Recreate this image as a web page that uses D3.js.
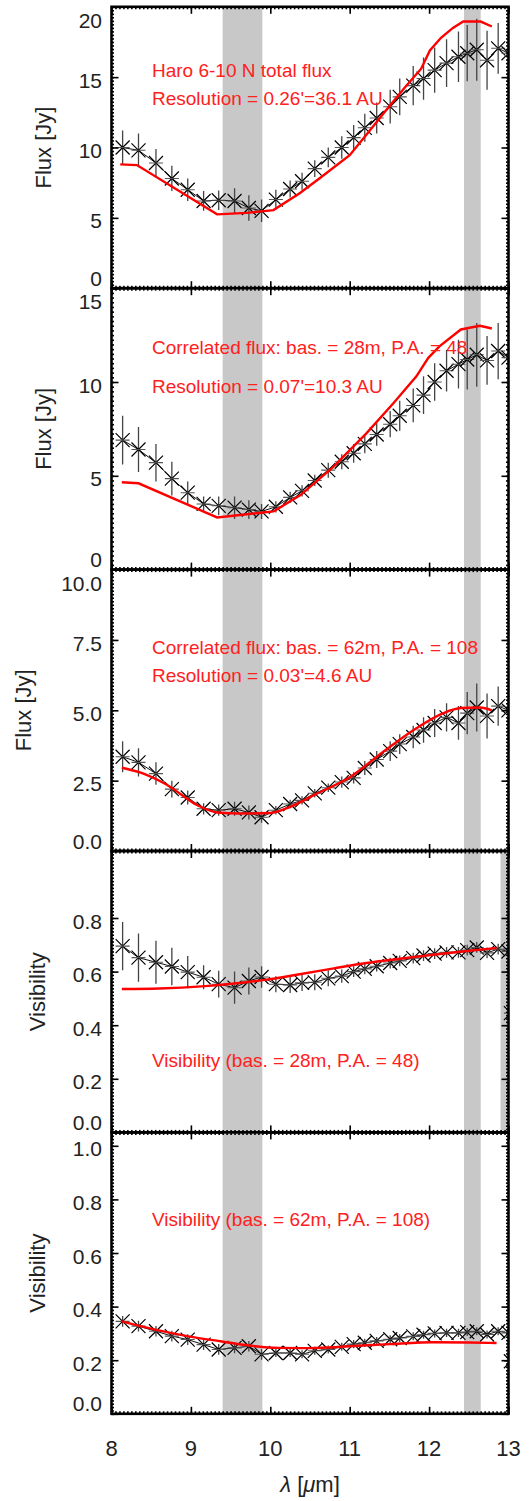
<!DOCTYPE html>
<html>
<head>
<meta charset="utf-8">
<script src="https://cdn.jsdelivr.net/npm/d3@7"></script>
<style>
  body { margin: 0; background: #fff; }
  svg { display: block; }
  text { font-family: "Liberation Sans", Arial, Helvetica, sans-serif; }
</style>
</head>
<body>
<svg id="chart" width="529" height="1501"></svg>
<script>
/* ── wavelength grid of the measured points (µm) ── */
const lambda = [8.14, 8.34, 8.56, 8.76, 8.96, 9.16, 9.35, 9.55, 9.73, 9.89,
  10.07, 10.25, 10.40, 10.56, 10.73, 10.90, 11.05, 11.19, 11.34, 11.51,
  11.63, 11.80, 11.93, 12.07, 12.22, 12.37, 12.48, 12.60, 12.73, 12.87, 13.00];
const lambdaVis = lambda.concat([13.03]);

/* ── total flux (Jy) ── */
const fluxTotal = [10.0, 9.8, 8.9, 7.8, 7.0, 6.2, 6.25, 6.2, 5.7, 5.5,
  6.3, 7.05, 7.6, 8.5, 9.3, 10.0, 10.7, 11.4, 12.1, 12.9,
  13.6, 14.4, 14.9, 15.5, 16.0, 16.45, 16.7, 16.95, 16.2, 17.05, 16.7];
const fluxTotalErr = [1.2, 1.2, 1.0, 0.9, 0.8, 0.7, 0.7, 0.9, 0.9, 0.8,
  0.7, 0.6, 0.6, 0.6, 0.7, 0.8, 0.9, 1.0, 1.1, 1.2,
  1.3, 1.4, 1.5, 1.6, 1.7, 1.8, 2.0, 2.2, 2.1, 1.8, 2.4];

/* ── correlated flux, 28 m baseline (Jy) ── */
const fluxCorr28 = [6.9, 6.4, 5.7, 4.85, 4.1, 3.5, 3.4, 3.3, 3.2, 3.1,
  3.35, 3.85, 4.2, 4.75, 5.3, 5.75, 6.2, 6.7, 7.2, 7.75,
  8.2, 8.75, 9.3, 10.0, 10.6, 10.95, 11.2, 11.45, 11.15, 11.65, 11.3];
const fluxCorr28Err = [1.3, 1.2, 1.0, 0.9, 0.6, 0.4, 0.5, 0.6, 0.5, 0.4,
  0.3, 0.3, 0.3, 0.3, 0.4, 0.4, 0.5, 0.5, 0.6, 0.7,
  0.8, 0.9, 1.0, 1.0, 1.1, 1.3, 1.6, 1.7, 1.3, 1.5, 1.8];

/* ── correlated flux, 62 m baseline (Jy) ── */
const fluxCorr62 = [3.35, 3.15, 2.75, 2.2, 1.9, 1.5, 1.45, 1.5, 1.37, 1.2,
  1.45, 1.67, 1.8, 2.05, 2.25, 2.45, 2.6, 2.95, 3.25, 3.55,
  3.8, 4.05, 4.3, 4.55, 4.75, 4.55, 4.9, 5.1, 4.8, 5.15, 5.0];
const fluxCorr62Err = [0.55, 0.5, 0.4, 0.3, 0.25, 0.2, 0.2, 0.25, 0.25, 0.2,
  0.15, 0.15, 0.15, 0.15, 0.15, 0.2, 0.2, 0.25, 0.3, 0.35,
  0.35, 0.4, 0.45, 0.5, 0.5, 0.6, 0.75, 0.85, 0.8, 0.7, 0.9];

/* ── visibilities ── */
const vis28 = [0.695, 0.652, 0.635, 0.619, 0.598, 0.579, 0.553, 0.54, 0.565, 0.58,
  0.553, 0.55, 0.558, 0.56, 0.575, 0.583, 0.6, 0.61, 0.62, 0.632,
  0.64, 0.65, 0.66, 0.667, 0.672, 0.672, 0.68, 0.69, 0.67, 0.684, 0.675, 0.445];
const vis28Err = [0.09, 0.09, 0.08, 0.07, 0.06, 0.045, 0.05, 0.06, 0.05, 0.04,
  0.03, 0.03, 0.03, 0.03, 0.03, 0.025, 0.02, 0.02, 0.02, 0.02,
  0.02, 0.02, 0.02, 0.02, 0.02, 0.02, 0.02, 0.02, 0.02, 0.02, 0.02, 0.02];
const vis62 = [0.345, 0.327, 0.308, 0.29, 0.277, 0.258, 0.24, 0.246, 0.252, 0.222,
  0.227, 0.227, 0.222, 0.235, 0.24, 0.25, 0.26, 0.265, 0.272, 0.278,
  0.283, 0.289, 0.295, 0.3, 0.302, 0.302, 0.305, 0.308, 0.296, 0.308, 0.302, 0.196];
const vis62Err = [0.02, 0.02, 0.02, 0.02, 0.02, 0.02, 0.02, 0.02, 0.02, 0.02,
  0.015, 0.015, 0.015, 0.015, 0.015, 0.015, 0.015, 0.015, 0.015, 0.015,
  0.015, 0.015, 0.015, 0.015, 0.015, 0.015, 0.015, 0.015, 0.015, 0.015, 0.015, 0.015];

/* ── model curves (red) ── */
const modelLamTotal = [8.11, 8.32, 9.33, 9.70, 10.04, 10.37, 10.63, 11.00, 11.21, 11.45,
  11.70, 11.90, 12.01, 12.15, 12.30, 12.43, 12.65, 12.79];
const modelTotal = [8.8, 8.75, 5.25, 5.35, 5.55, 6.75, 7.85, 9.45, 10.9, 12.6,
  14.3, 15.6, 16.9, 17.8, 18.5, 18.95, 18.95, 18.6];
const modelLam28 = [8.13, 8.34, 9.33, 10.04, 10.38, 10.79, 11.21, 11.55, 11.84, 11.99,
  12.13, 12.40, 12.64, 12.79];
const model28 = [4.66, 4.6, 2.78, 3.1, 3.97, 5.46, 7.26, 8.87, 10.3, 11.29,
  11.9, 12.8, 13.0, 12.85];
const modelLam62 = [8.13, 8.35, 8.68, 9.10, 9.33, 9.62, 10.0, 10.25, 10.58, 11.0,
  11.42, 11.84, 12.18, 12.40, 12.64, 12.79];
const model62 = [2.96, 2.8, 2.38, 1.6, 1.37, 1.33, 1.35, 1.57, 2.03, 2.62,
  3.52, 4.36, 4.9, 5.08, 5.1, 5.0];
const modelLamVis28 = [8.13, 8.6, 9.18, 9.93, 10.37, 10.8, 11.21, 11.63, 12.05, 12.45, 12.85];
const modelVis28 = [0.535, 0.537, 0.546, 0.569, 0.59, 0.612, 0.632, 0.648, 0.663, 0.676, 0.688];
const modelLamVis62 = [8.13, 8.55, 8.97, 9.39, 9.81, 10.1, 10.5, 11.0, 11.5, 12.05, 12.5, 12.85];
const modelVis62 = [0.345, 0.314, 0.289, 0.27, 0.252, 0.246, 0.245, 0.252, 0.26, 0.267, 0.266, 0.264];

/* ── shaded wavelength ranges (µm) ── */
const bands = [[9.40, 9.90], [12.44, 12.65]];
const bandsVis28 = bands.concat([[12.90, 13.0]]);

/* ── tick values ── */
const xTicks = [8, 9, 10, 11, 12, 13];
const yTicksTotal = [0, 5, 10, 15, 20];
const yTicks28 = [0, 5, 10, 15];
const yTicks62 = [0, 2.5, 5, 7.5, 10];
const yTicksVis28 = [0, 0.2, 0.4, 0.6, 0.8];
const yTicksVis62 = [0, 0.2, 0.4, 0.6, 0.8, 1.0];

/* ── texts ── */
const notesTotal = ["Haro 6-10 N total flux", "Resolution = 0.26'=36.1 AU"];
const notes28 = ["Correlated flux: bas. = 28m, P.A. = 48", "Resolution = 0.07'=10.3 AU"];
const notes62 = ["Correlated flux: bas. = 62m, P.A. = 108", "Resolution = 0.03'=4.6 AU"];
const notesVis28 = ["Visibility (bas. = 28m, P.A. = 48)"];
const notesVis62 = ["Visibility (bas. = 62m, P.A. = 108)"];

/*═══════════════════════════════════════════════
  LAYOUT
═══════════════════════════════════════════════*/
const svg = d3.select("#chart");
const xLeft = 111.5, xRight = 508.5;
const top0 = 6.8, panelH = 281.4;
const labelFont = 22, tickFont = 21, noteFont = 19;

const x = d3.scaleLinear().domain([8, 13]).range([xLeft, xRight]);

const panels = [
  { lam: lambda, val: fluxTotal, err: fluxTotalErr, mLam: modelLamTotal, mVal: modelTotal,
    domain: [0, 20], ticks: yTicksTotal, fmt: d3.format("d"), minor: 0.25,
    title: "Flux [Jy]", titleX: 43, notes: notesTotal, noteY: [15.0, 13.0], bands: bands, curve: d3.curveLinear },
  { lam: lambda, val: fluxCorr28, err: fluxCorr28Err, mLam: modelLam28, mVal: model28,
    domain: [0, 15], ticks: yTicks28, fmt: d3.format("d"), minor: 0.25,
    title: "Flux [Jy]", titleX: 43, notes: notes28, noteY: [11.47, 9.43], bands: bands, curve: d3.curveLinear },
  { lam: lambda, val: fluxCorr62, err: fluxCorr62Err, mLam: modelLam62, mVal: model62,
    domain: [0, 10], ticks: yTicks62, fmt: d3.format(".1f"), minor: 0.125,
    title: "Flux [Jy]", titleX: 23, notes: notes62, noteY: [7.0, 6.0], bands: bands, curve: d3.curveMonotoneX },
  { lam: lambdaVis, val: vis28, err: vis28Err, mLam: modelLamVis28, mVal: modelVis28,
    domain: [0, 1.05], ticks: yTicksVis28, fmt: d3.format(".1f"), minor: 0.0125,
    title: "Visibility", titleX: 37, notes: notesVis28, noteY: [0.243], bands: bandsVis28, curve: d3.curveMonotoneX },
  { lam: lambdaVis, val: vis62, err: vis62Err, mLam: modelLamVis62, mVal: modelVis62,
    domain: [0, 1.05], ticks: yTicksVis62, fmt: d3.format(".1f"), minor: 0.0125,
    title: "Visibility", titleX: 37, notes: notesVis62, noteY: [0.70], bands: bands, curve: d3.curveMonotoneX }
];

panels.forEach((p, i) => {
  const top = top0 + i * panelH;
  const bottom = top + panelH;
  const y = d3.scaleLinear().domain(p.domain).range([bottom, top]);
  const g = svg.append("g");

  const clipId = "clip" + i;
  svg.append("clipPath").attr("id", clipId)
    .append("rect").attr("x", xLeft).attr("y", top).attr("width", xRight - xLeft).attr("height", panelH);

  const plot = g.append("g").attr("clip-path", `url(#${clipId})`);

  /* bandas grises */
  plot.selectAll("rect.band").data(p.bands).join("rect")
    .attr("class", "band")
    .attr("x", d => x(d[0])).attr("width", d => x(d[1]) - x(d[0]))
    .attr("y", top).attr("height", panelH)
    .attr("fill", "#c8c8c8");

  const pts = p.lam.map((l, k) => ({ l, v: p.val[k], e: p.err[k] }));

  /* barras de error */
  plot.selectAll("line.err").data(pts).join("line")
    .attr("x1", d => x(d.l)).attr("x2", d => x(d.l))
    .attr("y1", d => y(d.v - d.e)).attr("y2", d => y(d.v + d.e))
    .attr("stroke", "#444").attr("stroke-width", 1.3);

  /* línea que une los puntos */
  plot.append("path").datum(pts.slice(0, lambda.length))
    .attr("d", d3.line().x(d => x(d.l)).y(d => y(d.v)))
    .attr("fill", "none").attr("stroke", "#111").attr("stroke-width", 1);

  /* marcadores (asterisco: X + brazo horizontal) */
  const s = 7;
  const mk = plot.selectAll("g.mk").data(pts).join("g")
    .attr("transform", d => `translate(${x(d.l)},${y(d.v)})`);
  mk.append("path")
    .attr("d", `M${-s},${-s}L${s},${s}M${-s},${s}L${s},${-s}`)
    .attr("stroke", "#000").attr("stroke-width", 1.2).attr("fill", "none");
  mk.append("path")
    .attr("d", `M${-s},0L${s},0`)
    .attr("stroke", "#555").attr("stroke-width", 1.1);

  /* modelo */
  plot.append("path").datum(p.mLam.map((l, k) => [l, p.mVal[k]]))
    .attr("d", d3.line().curve(p.curve).x(d => x(d[0])).y(d => y(d[1])))
    .attr("fill", "none").attr("stroke", "#ff0000").attr("stroke-width", 2.4);

  /* textos */
  p.notes.forEach((t, k) => {
    g.append("text")
      .attr("x", x(8.51)).attr("y", y(p.noteY[k]))
      .attr("font-size", noteFont).attr("fill", "#ff2020")
      .text(t);
  });

  /* ejes: marcas menores y mayores */
  const minorY = d3.range(p.domain[0], p.domain[1] + 1e-9, p.minor);
  const minorX = d3.range(8, 13.0001, 0.05);
  g.append("g").attr("transform", `translate(${xLeft},0)`)
    .call(d3.axisLeft(y).tickValues(minorY).tickSize(-2.5).tickFormat(""));
  g.append("g").attr("transform", `translate(${xRight},0)`)
    .call(d3.axisRight(y).tickValues(minorY).tickSize(-2.5).tickFormat(""));
  g.append("g").attr("transform", `translate(0,${top})`)
    .call(d3.axisTop(x).tickValues(minorX).tickSize(-2.5).tickFormat(""));
  g.append("g").attr("transform", `translate(0,${bottom})`)
    .call(d3.axisBottom(x).tickValues(minorX).tickSize(-2.5).tickFormat(""));

  g.append("g").attr("transform", `translate(${xLeft},0)`)
    .call(d3.axisLeft(y).tickValues(p.ticks).tickSize(-7).tickFormat(""));
  g.append("g").attr("transform", `translate(${xRight},0)`)
    .call(d3.axisRight(y).tickValues(p.ticks).tickSize(-7).tickFormat(""));
  g.append("g").attr("transform", `translate(0,${top})`)
    .call(d3.axisTop(x).tickValues(xTicks).tickSize(-7).tickFormat(""));
  g.append("g").attr("transform", `translate(0,${bottom})`)
    .call(d3.axisBottom(x).tickValues(xTicks).tickSize(-7).tickFormat(""));

  g.selectAll(".domain").remove();
  g.selectAll(".tick line").attr("stroke", "#000").attr("stroke-width", 1.6);

  g.append("rect")
    .attr("x", xLeft).attr("y", top).attr("width", xRight - xLeft).attr("height", panelH)
    .attr("fill", "none").attr("stroke", "#000").attr("stroke-width", 2.6);

  /* etiquetas del eje y (la primera y la última se mantienen dentro del panel) */
  g.selectAll("text.ylab").data(p.ticks).join("text")
    .attr("class", "ylab")
    .attr("x", 102)
    .attr("y", d => Math.min(bottom - 10, Math.max(top + 13.5, y(d) + 3)))
    .attr("dy", "0.36em")
    .attr("text-anchor", "end")
    .attr("font-size", tickFont).attr("fill", "#222")
    .text(d => p.fmt(d));

  g.append("text")
    .attr("transform", `translate(${p.titleX},${(top + bottom) / 2}) rotate(-90)`)
    .attr("text-anchor", "middle").attr("dominant-baseline", "central")
    .attr("font-size", labelFont).attr("fill", "#222")
    .text(p.title);

  /* eje x con etiquetas sólo en el panel inferior */
  if (i === panels.length - 1) {
    g.selectAll("text.xlab").data(xTicks).join("text")
      .attr("class", "xlab")
      .attr("x", d => x(d)).attr("y", bottom + 42)
      .attr("text-anchor", "middle")
      .attr("font-size", labelFont).attr("fill", "#222")
      .text(d => d);

    const xt = g.append("text")
      .attr("x", (xLeft + xRight) / 2).attr("y", bottom + 78)
      .attr("text-anchor", "middle")
      .attr("font-size", labelFont).attr("fill", "#222");
    xt.append("tspan").attr("font-style", "italic").text("λ");
    xt.append("tspan").text(" [");
    xt.append("tspan").attr("font-style", "italic").text("μ");
    xt.append("tspan").text("m]");
  }
});
</script>
</body>
</html>
